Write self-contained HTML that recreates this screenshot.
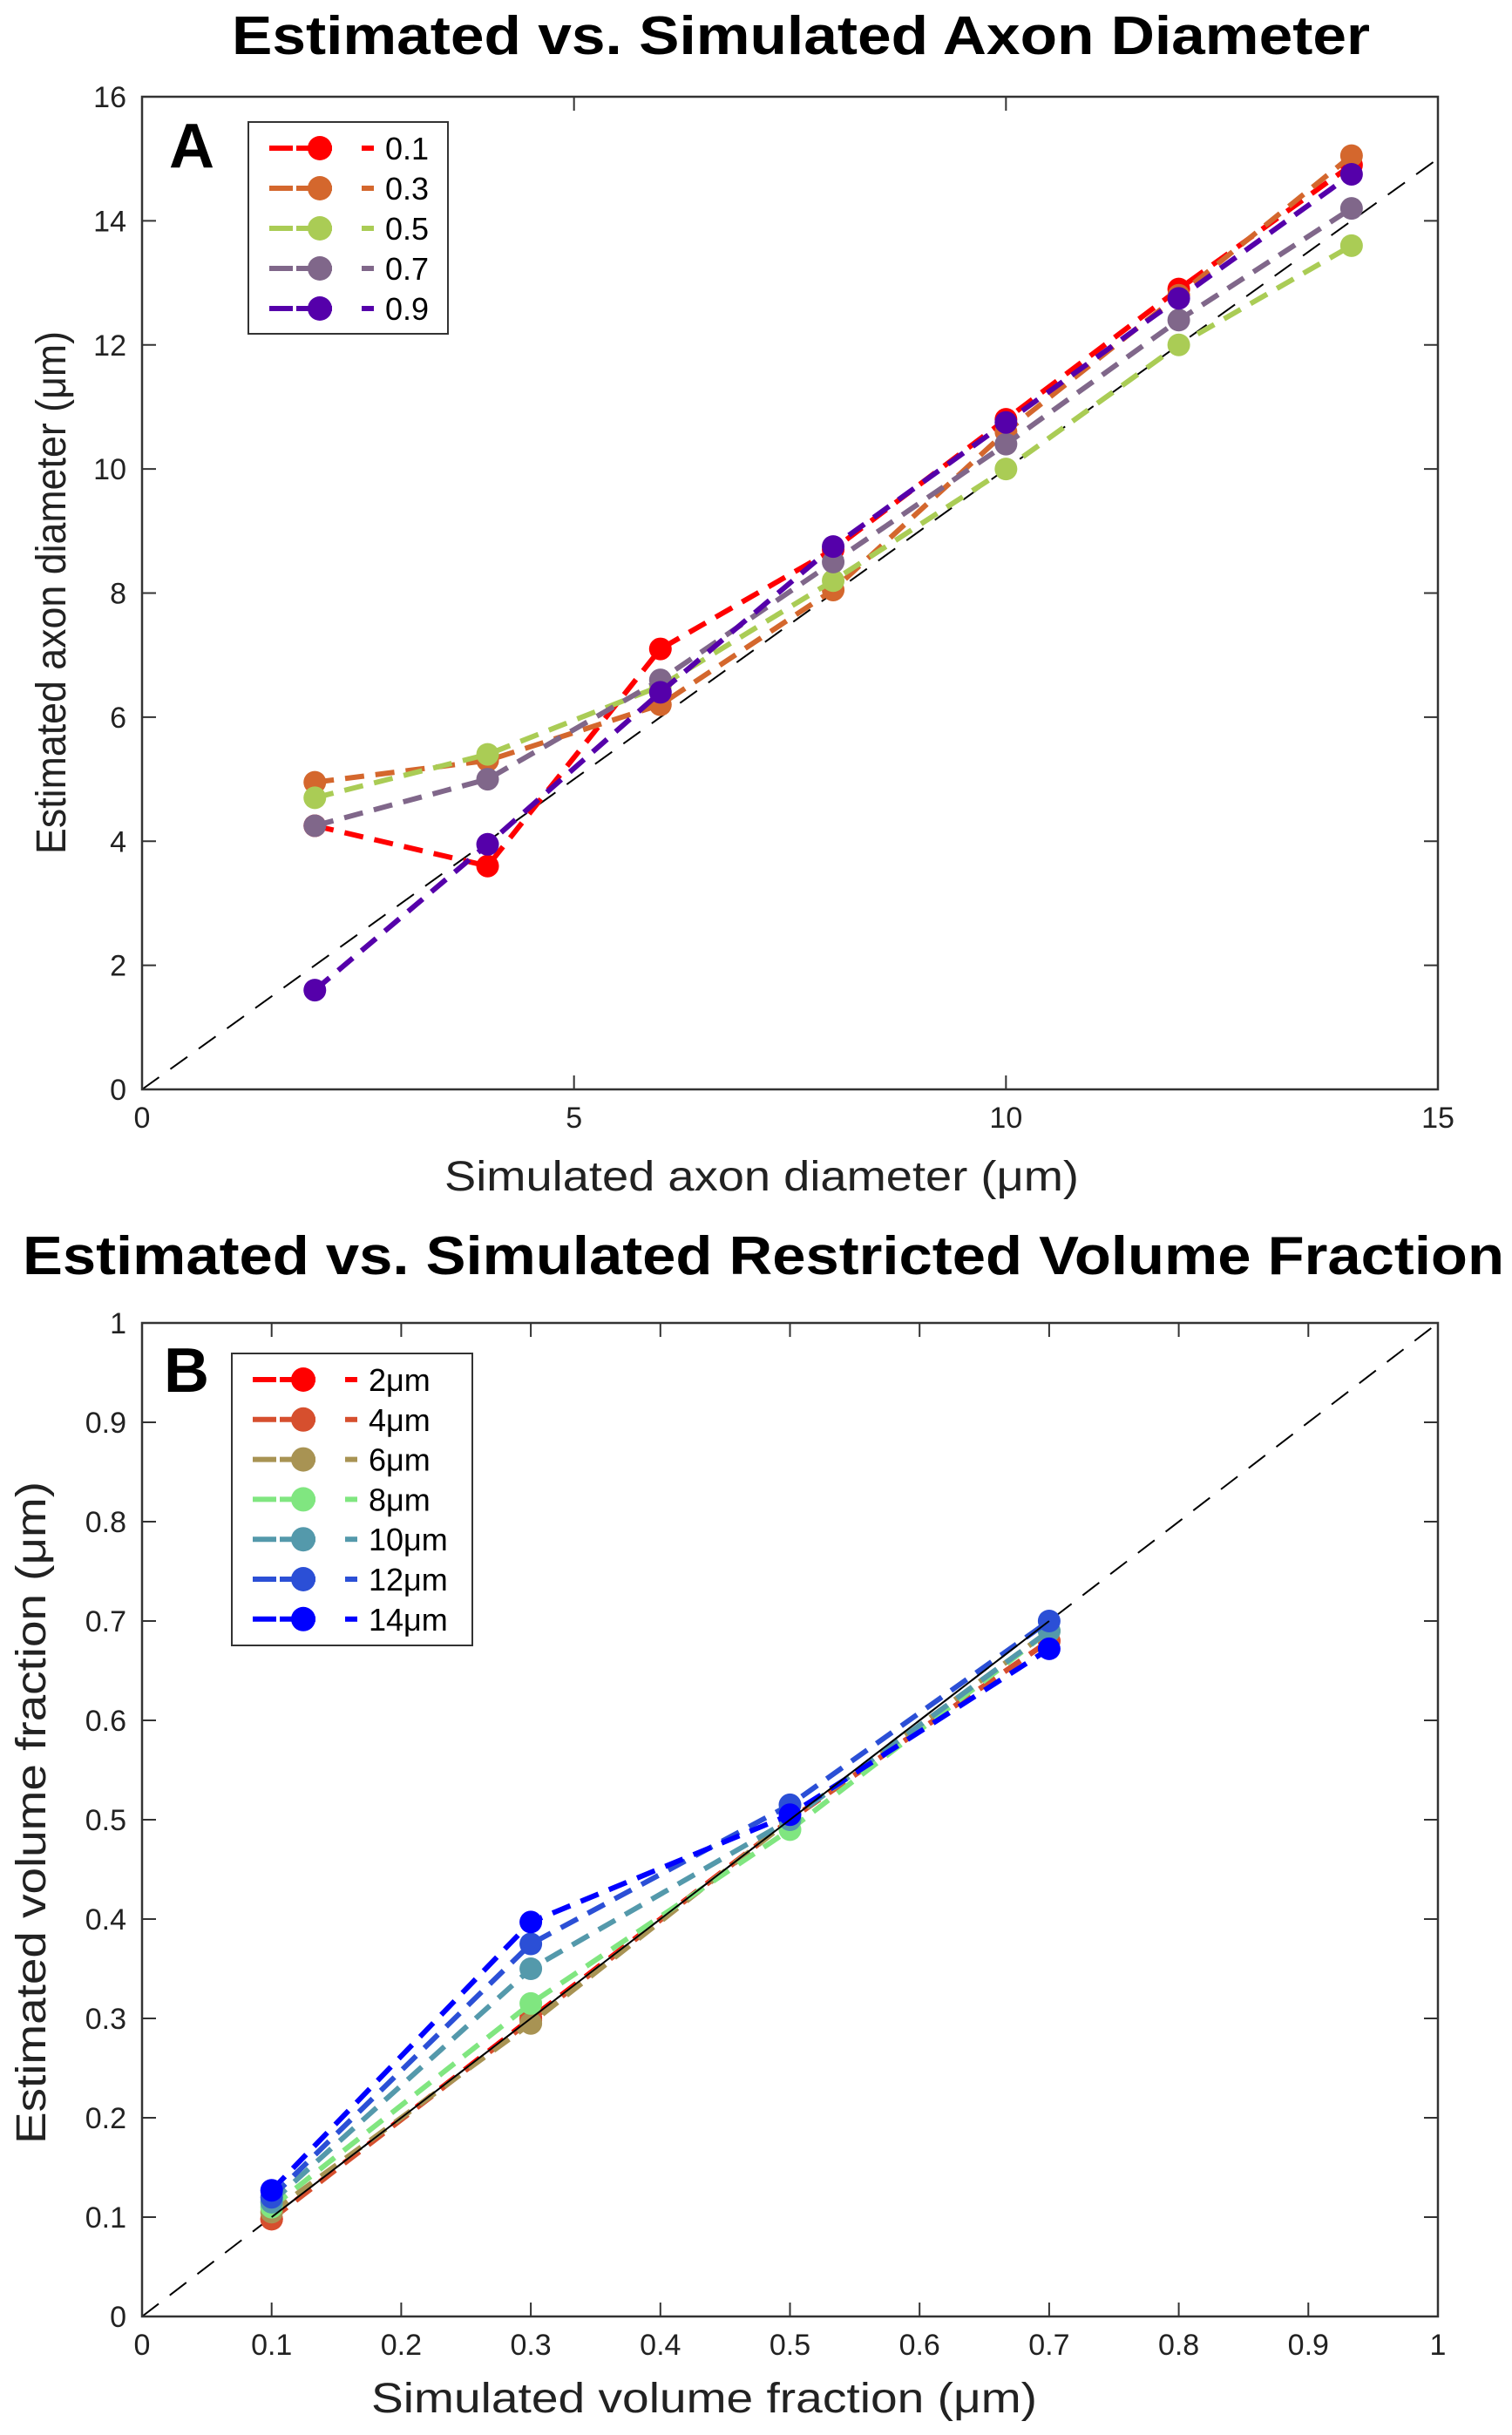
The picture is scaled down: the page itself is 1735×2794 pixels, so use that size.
<!DOCTYPE html>
<html><head><meta charset="utf-8"><style>
html,body{margin:0;padding:0;background:#fff}
svg{display:block;font-family:"Liberation Sans","DejaVu Sans",sans-serif}
</style></head><body>
<svg id="fig" width="1735" height="2794" viewBox="0 0 1735 2794" xmlns="http://www.w3.org/2000/svg">
<rect width="1735" height="2794" fill="#fff"/>
<text x="919" y="62" text-anchor="middle" font-size="62" font-weight="bold" textLength="1306" lengthAdjust="spacingAndGlyphs">Estimated vs. Simulated Axon Diameter</text>
<text x="876" y="1462" text-anchor="middle" font-size="62" font-weight="bold" textLength="1700" lengthAdjust="spacingAndGlyphs">Estimated vs. Simulated Restricted Volume Fraction</text>
<text x="874" y="1366" text-anchor="middle" font-size="48" fill="#222" textLength="728" lengthAdjust="spacingAndGlyphs">Simulated axon diameter (μm)</text>
<text transform="translate(75,680) rotate(-90)" text-anchor="middle" font-size="48" fill="#222" textLength="600" lengthAdjust="spacingAndGlyphs">Estimated axon diameter (μm)</text>
<text x="808" y="2768" text-anchor="middle" font-size="48" fill="#222" textLength="764" lengthAdjust="spacingAndGlyphs">Simulated volume fraction (μm)</text>
<text transform="translate(52,2080) rotate(-90)" text-anchor="middle" font-size="48" fill="#222" textLength="760" lengthAdjust="spacingAndGlyphs">Estimated volume fraction (μm)</text>
<g id="pa"></g>
<g id="pb"></g>
</svg>
<script>
// Panel A data
const aX = [2,4,6,8,10,12,14];
const aNames = ['0.1','0.3','0.5','0.7','0.9'];
const aColors = ['#ff0000','#d4672d','#aacc55','#80678a','#5500aa'];
const aS1 = [4.25,3.6,7.1,8.7,10.8,12.9,14.9];
const aS2 = [4.95,5.3,6.2,8.05,10.6,12.8,15.05];
const aS3 = [4.7,5.4,6.5,8.2,10.0,12.0,13.6];
const aS4 = [4.25,5.0,6.6,8.5,10.4,12.4,14.2];
const aS5 = [1.6,3.95,6.4,8.75,10.75,12.75,14.75];
const aXTicks = [0,5,10,15];
const aYTicks = [0,2,4,6,8,10,12,14,16];
// Panel B data
const bX = [0.1,0.3,0.5,0.7];
const bNames = ['2μm','4μm','6μm','8μm','10μm','12μm','14μm'];
const bColors = ['#ff0000','#d64f2e','#a89353','#80e680','#5499ab','#2b4fd6','#0000ff'];
const bS1 = [0.098,0.3,0.5,0.68];
const bS2 = [0.098,0.298,0.5,0.68];
const bS3 = [0.105,0.295,0.5,0.69];
const bS4 = [0.11,0.315,0.49,0.69];
const bS5 = [0.115,0.35,0.5,0.69];
const bS6 = [0.12,0.375,0.515,0.70];
const bS7 = [0.127,0.397,0.505,0.672];
const bXTicks = [0,0.1,0.2,0.3,0.4,0.5,0.6,0.7,0.8,0.9,1];
const bYTicks = [0,0.1,0.2,0.3,0.4,0.5,0.6,0.7,0.8,0.9,1];

const NS='http://www.w3.org/2000/svg';
function mk(parent,tag,attrs){const e=document.createElementNS(NS,tag);for(const k in attrs)e.setAttribute(k,attrs[k]);parent.appendChild(e);return e;}

function panel(g,o){
  const L=o.L,R=o.R,T=o.T,B=o.B;
  const sx=v=>L+(v-o.xmin)/(o.xmax-o.xmin)*(R-L);
  const sy=v=>B-(v-o.ymin)/(o.ymax-o.ymin)*(B-T);
  // diagonal
  const d=mk(g,'line',{x1:sx(o.xmin),y1:sy(o.ymin),x2:sx(Math.min(o.xmax,o.ymax)),y2:sy(Math.min(o.xmax,o.ymax)),stroke:'#000','stroke-width':2,'stroke-dasharray':'24,16'});
  
  
  // series
  o.series.forEach((s,i)=>{
    const pts=o.xs.map((x,j)=>sx(x)+','+sy(s[j])).join(' ');
    const pl=mk(g,'polyline',{points:pts,fill:'none',stroke:o.colors[i],'stroke-width':6,'stroke-dasharray':'22,13'});
    
    
    o.xs.forEach((x,j)=>{
      const c=mk(g,'circle',{cx:sx(x),cy:sy(s[j]),r:13,fill:o.colors[i]});
      
      
    });
  });
  if(o.solidDiag){
    const sd=mk(g,'line',{x1:sx(0.1),y1:sy(0.1),x2:sx(0.7),y2:sy(0.7),stroke:'#000','stroke-width':2});
    
    
  }
  // axes box
  const box=mk(g,'rect',{x:L,y:T,width:R-L,height:B-T,fill:'none',stroke:'#333','stroke-width':2.5});
  
  
  o.xt.forEach(v=>{
    const x=sx(v);
    mk(g,'line',{x1:x,y1:B,x2:x,y2:B-16,stroke:'#333','stroke-width':2});
    mk(g,'line',{x1:x,y1:T,x2:x,y2:T+16,stroke:'#333','stroke-width':2});
    const t=mk(g,'text',{x:x,y:B+44,'text-anchor':'middle','font-size':34,fill:'#222'});
    t.textContent=String(v);
    
    
  });
  o.yt.forEach(v=>{
    const y=sy(v);
    mk(g,'line',{x1:L,y1:y,x2:L+16,y2:y,stroke:'#333','stroke-width':2});
    mk(g,'line',{x1:R,y1:y,x2:R-16,y2:y,stroke:'#333','stroke-width':2});
    const t=mk(g,'text',{x:L-18,y:y+12,'text-anchor':'end','font-size':34,fill:'#222'});
    t.textContent=String(v);
    
    
  });
  // panel letter
  const pl=mk(g,'text',{x:o.letterX,y:o.letterY,'font-size':72,'font-weight':'bold'});
  pl.textContent=o.letter;
  
  
  // legend
  const lg=mk(g,'g',{});
  
  
  mk(lg,'rect',{x:o.lg.x,y:o.lg.y,width:o.lg.w,height:o.lg.h,fill:'#fff',stroke:'#333','stroke-width':2});
  o.names.forEach((n,i)=>{
    const y=o.lg.y0+i*o.lg.dy;
    const e=mk(lg,'g',{});
    
    
    mk(e,'line',{x1:o.lg.lx,y1:y,x2:o.lg.lx+27,y2:y,stroke:o.colors[i],'stroke-width':6});
    mk(e,'line',{x1:o.lg.lx+31,y1:y,x2:o.lg.lx+72,y2:y,stroke:o.colors[i],'stroke-width':6});
    mk(e,'line',{x1:o.lg.lx+106,y1:y,x2:o.lg.lx+120,y2:y,stroke:o.colors[i],'stroke-width':6});
    mk(e,'circle',{cx:o.lg.lx+58,cy:y,r:14,fill:o.colors[i]});
    const t=mk(e,'text',{x:o.lg.lx+133,y:y+13,'font-size':36,fill:'#000'});
    t.textContent=n;
  });
}
panel(document.getElementById('pa'),{L:163,R:1650,T:111,B:1250,xmin:0,xmax:15,ymin:0,ymax:16,
  xs:aX,series:[aS1,aS2,aS3,aS4,aS5],colors:aColors,names:aNames,xt:aXTicks,yt:aYTicks,
  letter:'A',letterX:194,letterY:192,
  lg:{x:285,y:140,w:229,h:243,y0:170,dy:46,lx:309}});
panel(document.getElementById('pb'),{L:163,R:1650,T:1518,B:2658,xmin:0,xmax:1,ymin:0,ymax:1,
  xs:bX,series:[bS1,bS2,bS3,bS4,bS5,bS6,bS7],colors:bColors,names:bNames,xt:bXTicks,yt:bYTicks,
  letter:'B',letterX:188,letterY:1597,solidDiag:true,
  lg:{x:266,y:1553,w:276,h:335,y0:1583,dy:45.8,lx:290}});
</script>
</body></html>
